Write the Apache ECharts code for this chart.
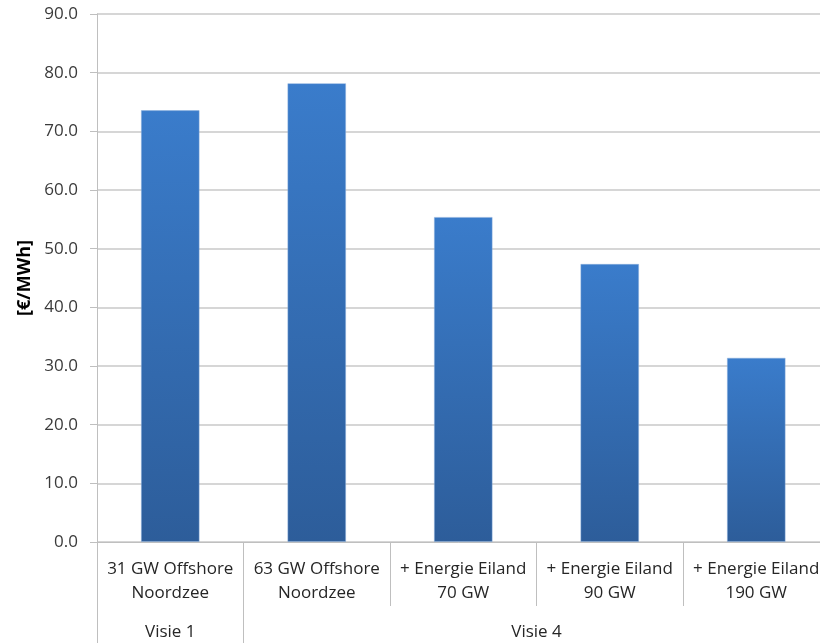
<!DOCTYPE html>
<html>
<head>
<meta charset="utf-8">
<script src="https://cdn.jsdelivr.net/npm/echarts@6/dist/echarts.min.js"></script>
<style>html,body{margin:0;padding:0;background:#fff;}#c{width:820px;height:643px;}</style>
</head>
<body>
<div id="c"></div>
<script>
const categories = ['31 GW Offshore\nNoordzee', '63 GW Offshore\nNoordzee', '+ Energie Eiland\n70 GW', '+ Energie Eiland\n90 GW', '+ Energie Eiland\n190 GW'];
const values = [73.6, 78.2, 55.4, 47.4, 31.4];
const groupLabels = ['Visie 1', 'Visie 4'];
const groupSpans = [1, 4];
const yTicks = [0, 10, 20, 30, 40, 50, 60, 70, 80, 90];
const yName = '[€/MWh]';

// build a half-category slot axis for group labels / group boundaries
const nSlots = categories.length * 2 + 1;
const groupData = new Array(nSlots).fill('');
const boundarySlots = [0];
let start = 0;
groupLabels.forEach((g, i) => {
  groupData[start * 2 + groupSpans[i]] = g;
  start += groupSpans[i];
  boundarySlots.push(start * 2);
});

const font = 'Open Sans';
const chart = echarts.init(document.getElementById('c'));
chart.setOption({
  animation: false,
  grid: { left: 97, top: 14, right: -9.5, bottom: 101, containLabel: false, outerBoundsMode: 'none' },
  xAxis: [{
    type: 'category',
    data: categories,
    axisLine: { lineStyle: { color: '#bfbfbf', width: 1 } },
    axisTick: { show: true, length: 64, interval: 0, lineStyle: { color: '#bfbfbf' } },
    axisLabel: { interval: 0, margin: 15, fontFamily: font, fontSize: 17, lineHeight: 24, color: '#262626' }
  }, {
    type: 'category',
    position: 'bottom',
    boundaryGap: false,
    data: groupData,
    axisLine: { show: false },
    axisTick: { show: true, length: 110, interval: (idx) => boundarySlots.includes(idx), lineStyle: { color: '#bfbfbf' } },
    axisLabel: { interval: 0, margin: 78, fontFamily: font, fontSize: 17, lineHeight: 24, color: '#262626' }
  }],
  yAxis: {
    type: 'value',
    min: yTicks[0],
    max: yTicks[yTicks.length - 1],
    interval: yTicks[1] - yTicks[0],
    name: yName,
    nameLocation: 'middle',
    nameGap: 63,
    nameTextStyle: { fontFamily: font, fontSize: 18, fontWeight: 'bold', color: '#000' },
    axisLine: { show: true, lineStyle: { color: '#bfbfbf', width: 1 } },
    axisTick: { show: true, length: 7, lineStyle: { color: '#bfbfbf' } },
    axisLabel: { margin: 19, fontFamily: font, fontSize: 17, color: '#3a3a3a', formatter: v => v.toFixed(1) },
    splitLine: { show: true, lineStyle: { color: '#c8c8c8', width: 1.5 } }
  },
  series: [{
    type: 'bar',
    data: values,
    barWidth: '40%',
    xAxisIndex: 0,
    itemStyle: {
      color: new echarts.graphic.LinearGradient(0, 0, 0, 1, [
        { offset: 0, color: '#3a7ccb' },
        { offset: 1, color: '#2d5d9a' }
      ]),
      borderColor: 'rgba(140,175,220,0.6)',
      borderWidth: 0.8
    }
  }]
});
</script>
</body>
</html>
